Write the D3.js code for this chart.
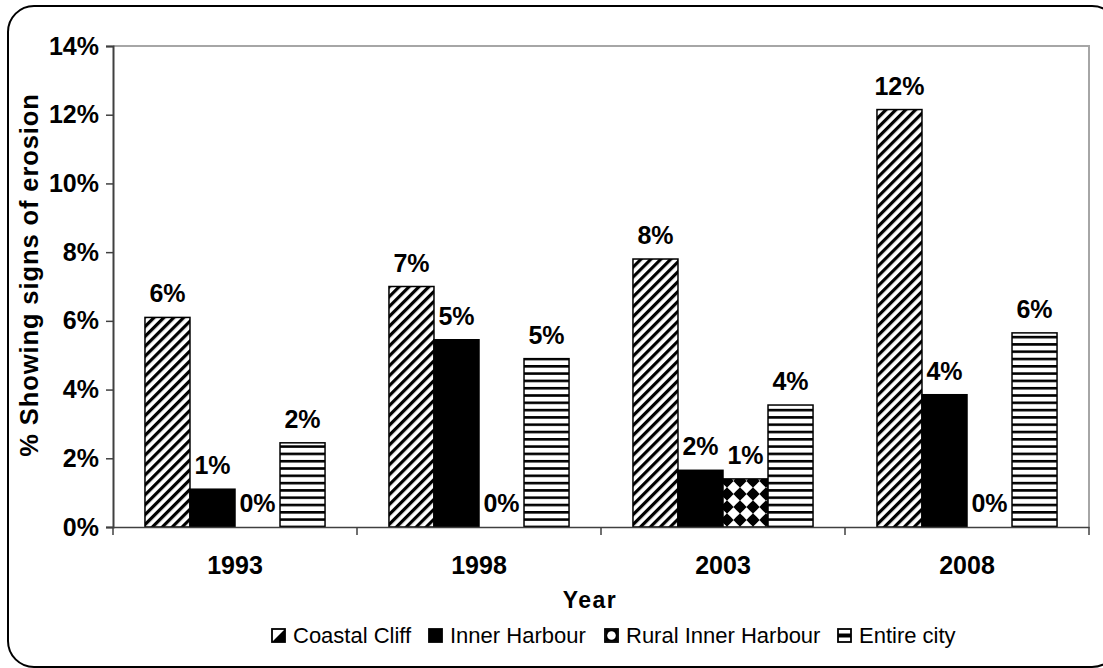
<!DOCTYPE html>
<html>
<head>
<meta charset="utf-8">
<script src="https://cdn.jsdelivr.net/npm/d3@7"></script>
<style>
  html, body { margin: 0; padding: 0; background: #fff; }
  svg { display: block; }
  text { font-family: Arial, "Liberation Sans", sans-serif; }
</style>
</head>
<body>
<svg id="chart" width="1103" height="668"></svg>
<script>
// ---- data ----
const years = ["1993", "1998", "2003", "2008"];
const seriesNames = ["Coastal Cliff", "Inner Harbour", "Rural Inner Harbour", "Entire city"];
const coastalCliff = [6.1, 7.0, 7.8, 12.15];
const innerHarbour = [1.1, 5.45, 1.65, 3.85];
const ruralInnerHarbour = [0, 0, 1.4, 0];
const entireCity = [2.45, 4.9, 3.55, 5.65];
const yTicks = [0, 2, 4, 6, 8, 10, 12, 14];
const yTitle = "% Showing signs of erosion";
const xTitle = "Year";

(function () {
const seriesValues = [coastalCliff, innerHarbour, ruralInnerHarbour, entireCity];
const fills = ["url(#diag)", "#000", "url(#dots)", "url(#hstripe)"];
const FONT = "Arial, 'Liberation Sans', sans-serif";

const svg = d3.select("#chart");
const defs = svg.append("defs");

// diagonal stripes
const pd = defs.append("pattern").attr("id", "diag").attr("patternUnits", "userSpaceOnUse")
  .attr("width", 7).attr("height", 7).attr("patternTransform", "rotate(45)");
pd.append("rect").attr("width", 7).attr("height", 7).attr("fill", "#fff");
pd.append("rect").attr("width", 3.2).attr("height", 7).attr("fill", "#000");

// horizontal stripes
const ph = defs.append("pattern").attr("id", "hstripe").attr("patternUnits", "userSpaceOnUse")
  .attr("width", 10).attr("height", 7.3);
ph.append("rect").attr("width", 10).attr("height", 7.3).attr("fill", "#fff");
ph.append("rect").attr("y", 0).attr("width", 10).attr("height", 2.6).attr("fill", "#000");

// white blobs on black
const pdots = defs.append("pattern").attr("id", "dots").attr("patternUnits", "userSpaceOnUse")
  .attr("width", 13).attr("height", 13).attr("x", 724).attr("y", 0);
pdots.append("rect").attr("width", 13).attr("height", 13).attr("fill", "#000");
pdots.append("path").attr("d", "M6.5,1.2 Q9,4 11.8,6.5 Q9,9 6.5,11.8 Q4,9 1.2,6.5 Q4,4 6.5,1.2 Z")
  .attr("fill", "#fff").attr("stroke", "#fff").attr("stroke-width", 1.6).attr("stroke-linejoin", "round");

// outer rounded frame
svg.append("rect").attr("x", 8).attr("y", 6).attr("width", 1110).attr("height", 661)
  .attr("rx", 26).attr("ry", 26).attr("fill", "#fff").attr("stroke", "#000").attr("stroke-width", 2);

// scales
const pLeft = 113, pRight = 1089, pTop = 46, pBottom = 527;
const x0 = d3.scaleBand().domain(years).range([pLeft, pRight]).paddingInner(0).paddingOuter(0);
const x1 = d3.scaleBand().domain(seriesNames).range([0, x0.bandwidth()]).paddingInner(0).paddingOuter(0.71);
const y = d3.scaleLinear().domain([0, 14]).range([pBottom, pTop]);

// plot border (top & right)
svg.append("path").attr("d", `M${pLeft},${pTop}H${pRight}V${pBottom}`)
  .attr("fill", "none").attr("stroke", "#a6a6a6").attr("stroke-width", 2);

// bars
const groups = svg.append("g").selectAll("g").data(years).join("g")
  .attr("transform", d => `translate(${x0(d)},0)`);

groups.each(function (yr, i) {
  const g = d3.select(this);
  seriesNames.forEach((s, j) => {
    const v = seriesValues[j][i];
    if (v > 0) {
      g.append("rect")
        .attr("x", x1(s)).attr("y", y(v))
        .attr("width", x1.bandwidth()).attr("height", y(0) - y(v))
        .attr("fill", fills[j]).attr("stroke", "#000").attr("stroke-width", 1.5);
    }
    g.append("text")
      .attr("x", x1(s) + x1.bandwidth() / 2).attr("y", y(v) - 15)
      .attr("text-anchor", "middle").attr("font-size", 25).attr("font-weight", "bold")
      .text(Math.round(v) + "%");
  });
});

// y axis
const yAxis = d3.axisLeft(y).tickValues(yTicks).tickFormat(d => d + "%").tickSize(7).tickPadding(7);
const gy = svg.append("g").attr("transform", `translate(${pLeft},0)`).call(yAxis);
gy.select(".domain").attr("stroke", "#404040").attr("stroke-width", 2);
gy.selectAll(".tick line").attr("stroke", "#404040").attr("stroke-width", 1.5);
gy.selectAll(".tick text").attr("font-size", 25).attr("font-weight", "bold").attr("fill", "#000")
  .attr("font-family", FONT);

// x axis
const xAxis = d3.axisBottom(x0).tickSize(0).tickPadding(29);
const gx = svg.append("g").attr("transform", `translate(0,${pBottom})`).call(xAxis);
gx.select(".domain").attr("stroke", "#404040").attr("stroke-width", 1.5);
gx.selectAll(".tick text").attr("font-size", 25).attr("font-weight", "bold").attr("fill", "#000")
  .attr("font-family", FONT);
// group boundary ticks
gx.selectAll(".bound").data(years.concat(["end"])).join("line").attr("class", "bound")
  .attr("x1", (d, i) => i < years.length ? x0(d) : pRight)
  .attr("x2", (d, i) => i < years.length ? x0(d) : pRight)
  .attr("y1", 0).attr("y2", 8).attr("stroke", "#404040").attr("stroke-width", 1.5);

// axis titles
svg.append("text").attr("x", 590).attr("y", 608).attr("text-anchor", "middle")
  .attr("font-size", 23).attr("font-weight", "bold").attr("letter-spacing", 1.5).text(xTitle);
svg.append("text").attr("transform", "translate(38,275) rotate(-90)").attr("text-anchor", "middle")
  .attr("font-size", 25.5).attr("font-weight", "bold").attr("letter-spacing", 0.9).text(yTitle);

// legend
const legendX = [272, 429, 605, 838];
const lg = svg.append("g").selectAll("g").data(seriesNames).join("g")
  .attr("transform", (d, i) => `translate(${legendX[i]},629)`);
lg.append("rect").attr("x", 0).attr("y", 0).attr("width", 13).attr("height", 13)
  .attr("fill", (d, i) => i === 1 ? "#000" : "#fff").attr("stroke", "#000").attr("stroke-width", 1.8);
// swatch details
lg.filter((d, i) => i === 0).append("path").attr("d", "M13,0 L13,13 L0,13 Z").attr("fill", "#000");
lg.filter((d, i) => i === 2).append("rect").attr("x", 0.5).attr("y", 0.5).attr("width", 12).attr("height", 12).attr("fill", "#000");
lg.filter((d, i) => i === 2).append("circle").attr("cx", 6.5).attr("cy", 6.5).attr("r", 4.3).attr("fill", "#fff");
lg.filter((d, i) => i === 3).append("rect").attr("x", 0).attr("y", 4.5).attr("width", 13).attr("height", 4).attr("fill", "#000");
lg.append("text").attr("x", 21).attr("y", 14).attr("font-size", 22).text(d => d);
})();
</script>
</body>
</html>
